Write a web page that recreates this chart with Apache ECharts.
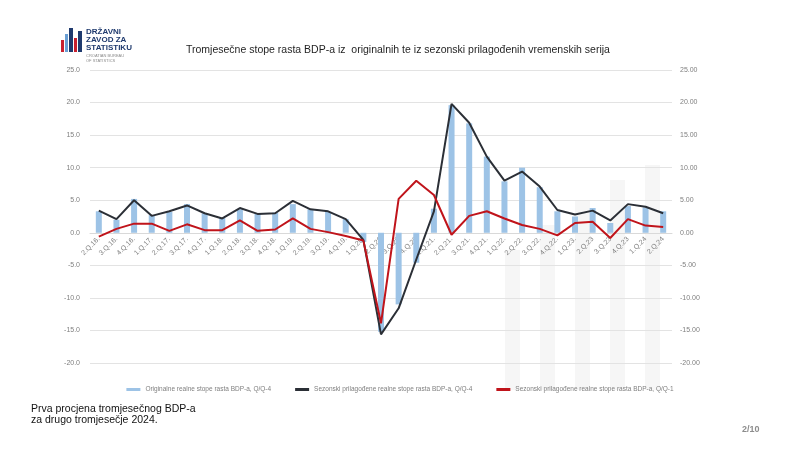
<!DOCTYPE html>
<html>
<head>
<meta charset="utf-8">
<script src="https://cdn.jsdelivr.net/npm/echarts@6/dist/echarts.min.js"></script>
<style>
html,body{margin:0;padding:0;background:#fff;}
#c{width:800px;height:450px;}
</style>
</head>
<body>
<div id="c"></div>
<script>
var categories = ['2.Q.16.','3.Q.16.','4.Q.16.','1.Q.17.','2.Q.17.','3.Q.17.','4.Q.17.','1.Q.18.','2.Q.18.','3.Q.18.','4.Q.18.','1.Q.19.','2.Q.19.','3.Q.19.','4.Q.19.','1.Q.20.','2.Q.20','3.Q.20','4.Q.20','1.Q.21.','2.Q.21.','3.Q.21.','4.Q.21.','1.Q.22.','2.Q.22.','3.Q.22.','4.Q.22.','1.Q.23.','2.Q.23','3.Q.23','4.Q.23','1.Q.24','2.Q.24'];
var originalYoY = [3.3,2.0,5.2,2.7,3.2,4.4,3.0,2.3,3.6,3.0,3.1,4.4,3.6,3.2,2.1,-1.4,-15.2,-11.0,-4.6,3.7,19.6,16.8,11.7,7.9,10.0,7.0,3.3,2.5,3.8,1.5,4.1,3.9,3.3];
var saYoY = [3.4,2.1,5.0,2.6,3.3,4.2,3.0,2.2,3.8,2.9,3.0,4.9,3.6,3.3,2.1,-1.1,-15.6,-11.6,-4.1,3.3,19.8,16.9,11.7,8.0,9.4,7.1,3.5,2.8,3.4,1.9,4.4,4.0,3.0];
var saQoQ = [-0.6,0.6,1.4,1.4,0.3,1.3,0.4,0.4,1.9,0.3,0.5,2.2,0.6,0.1,-0.5,-1.2,-13.9,5.2,8.0,5.8,-0.3,2.6,3.3,2.2,1.2,0.6,-0.4,1.5,1.7,-0.8,2.1,1.1,0.9];
var seriesNames = ['Originalne realne stope rasta BDP-a, Q/Q-4','Sezonski prilagođene realne stope rasta BDP-a, Q/Q-4','Sezonski prilagođene realne stope rasta BDP-a, Q/Q-1'];
var titleText = 'Tromjesečne stope rasta BDP-a iz  originalnih te iz sezonski prilagođenih vremenskih serija';

var chart = echarts.init(document.getElementById('c'), null, {renderer:'canvas'});
var axisFont = {color:'#7f7f7f', fontSize:7, fontFamily:'Liberation Sans Narrow, Liberation Sans, sans-serif'};
var wm = '#f6f6f6';
chart.setOption({
  animation:false,
  backgroundColor:'#ffffff',
  title:{text:titleText, left:181, top:40, textStyle:{fontSize:10.5, fontWeight:'normal', color:'#1f1f1f', fontFamily:'Liberation Sans Narrow, Liberation Sans, sans-serif'}},
  graphic:[
    // faint watermark shapes
    {type:'rect', z:-10, silent:true, shape:{x:505,y:250,width:15,height:140}, style:{fill:wm}},
    {type:'rect', z:-10, silent:true, shape:{x:540,y:225,width:15,height:165}, style:{fill:wm}},
    {type:'rect', z:-10, silent:true, shape:{x:575,y:200,width:15,height:190}, style:{fill:wm}},
    {type:'rect', z:-10, silent:true, shape:{x:610,y:180,width:15,height:210}, style:{fill:wm}},
    {type:'rect', z:-10, silent:true, shape:{x:645,y:165,width:15,height:225}, style:{fill:wm}},
    // logo
    {type:'rect', shape:{x:61,y:40,width:3,height:12}, style:{fill:'#c8202f'}},
    {type:'rect', shape:{x:65,y:34,width:3,height:18}, style:{fill:'#6a9fd4'}},
    {type:'rect', shape:{x:69,y:28,width:4,height:24}, style:{fill:'#1f3a6e'}},
    {type:'rect', shape:{x:74,y:38,width:3,height:14}, style:{fill:'#c8202f'}},
    {type:'rect', shape:{x:78,y:31,width:4,height:21}, style:{fill:'#1f3a6e'}},
    {type:'text', left:86, top:28, style:{text:'DRŽAVNI\nZAVOD ZA\nSTATISTIKU', fill:'#1f3a6e', font:'bold 8px Liberation Sans Narrow, Liberation Sans, sans-serif', lineHeight:8}},
    {type:'text', left:86, top:53, style:{text:'CROATIAN BUREAU\nOF STATISTICS', fill:'#8a8a8a', font:'4px Liberation Sans, sans-serif', lineHeight:5}},
    // footnotes
    {type:'text', left:31, top:404, style:{text:'Prva procjena tromjesečnog BDP-a\nza drugo tromjesečje 2024.', fill:'#111', font:'10.5px Liberation Sans, Arial, sans-serif', lineHeight:11}},
    {type:'text', left:742, top:425, style:{text:'2/10', fill:'#8c8c8c', font:'bold 9px Liberation Sans, Arial, sans-serif'}}
  ],
  legend:{
    top:381, left:'center', itemGap:24, itemWidth:14, itemHeight:3,
    textStyle:{color:'#7f7f7f', fontSize:6.5, fontFamily:'Liberation Sans Narrow, Liberation Sans, sans-serif'},
    data:[
      {name:seriesNames[0], icon:'rect'},
      {name:seriesNames[1], icon:'rect'},
      {name:seriesNames[2], icon:'rect'}
    ]
  },
  grid:{left:90, right:128, top:70, bottom:87},
  xAxis:{
    type:'category', data:categories, position:'bottom', offset:-130,
    axisLine:{onZero:false, lineStyle:{color:'#d9d9d9'}},
    axisTick:{show:false},
    axisLabel:Object.assign({rotate:45, interval:0, margin:5}, axisFont),
    splitLine:{show:false}
  },
  yAxis:[
    {type:'value', min:-20, max:25, interval:5, position:'left',
     axisLine:{show:false}, axisTick:{show:false},
     axisLabel:Object.assign({formatter:function(v){return v.toFixed(1);}, margin:10}, axisFont),
     splitLine:{lineStyle:{color:'#e3e3e3', width:1}}},
    {type:'value', min:-20, max:25, interval:5, position:'right',
     axisLine:{show:false}, axisTick:{show:false},
     axisLabel:Object.assign({formatter:function(v){return v.toFixed(2);}, margin:8}, axisFont),
     splitLine:{show:false}}
  ],
  series:[
    {name:seriesNames[0], type:'bar', data:originalYoY, barWidth:6, itemStyle:{color:'#9dc3e6'}, z:1},
    {name:seriesNames[1], type:'line', data:saYoY, symbol:'none', lineStyle:{color:'#2b2f36', width:2}, itemStyle:{color:'#2b2f36'}, z:3},
    {name:seriesNames[2], type:'line', data:saQoQ, symbol:'none', lineStyle:{color:'#c0141b', width:2}, itemStyle:{color:'#c0141b'}, z:4}
  ]
});
</script>
</body>
</html>
